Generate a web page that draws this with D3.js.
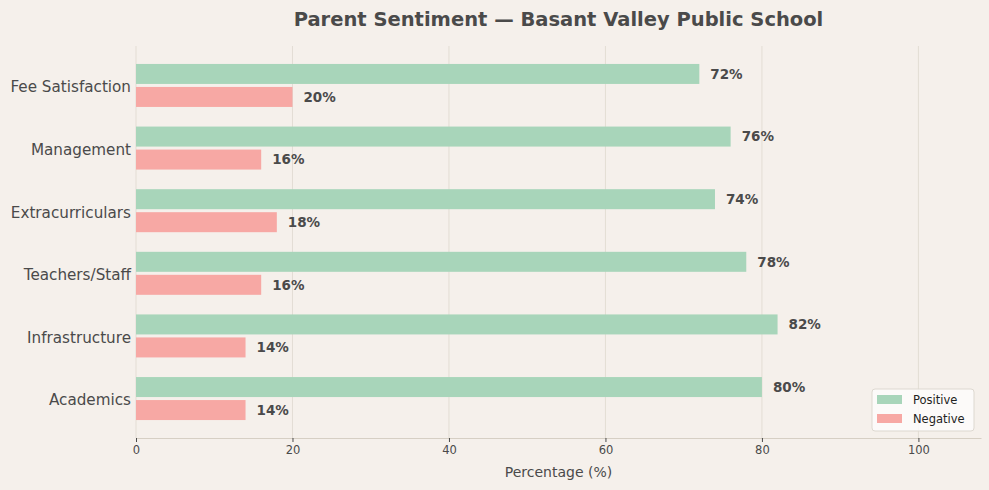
<!DOCTYPE html>
<html>
<head>
<meta charset="utf-8">
<script src="https://cdn.jsdelivr.net/npm/d3@7"></script>
<style>
  body { margin: 0; background: #f5f0eb; }
  svg { display: block; font-family: "DejaVu Sans", sans-serif; }
</style>
</head>
<body>
<svg id="chart"></svg>
<script>
// categories listed bottom to top, same order as the picture's y positions
const categories = ['Academics', 'Infrastructure', 'Teachers/Staff', 'Extracurriculars', 'Management', 'Fee Satisfaction'];
const positive = [80, 82, 78, 74, 76, 72];
const negative = [14, 14, 16, 18, 16, 20];
const xTicks = [0, 20, 40, 60, 80, 100];

const width = 989;
const height = 490;
const margin = { top: 46, right: 8, bottom: 52, left: 136 };
const textColor = '#4a4a4a';

const svg = d3.select('#chart')
  .attr('width', width)
  .attr('height', height);

svg.append('rect')
  .attr('width', width)
  .attr('height', height)
  .attr('fill', '#f5f0eb');

const x = d3.scaleLinear()
  .domain([0, 108])
  .range([margin.left, width - margin.right]);

const y = d3.scaleLinear()
  .domain([-0.63, categories.length - 1 + 0.63])
  .range([height - margin.bottom, margin.top]);

const barH = 20;
const gap = 3;

// grid
svg.append('g')
  .selectAll('line')
  .data(xTicks)
  .enter().append('line')
  .attr('x1', d => x(d))
  .attr('x2', d => x(d))
  .attr('y1', margin.top)
  .attr('y2', height - margin.bottom)
  .attr('stroke', '#e3ddd4')
  .attr('stroke-width', 1);

const groups = svg.append('g')
  .selectAll('g')
  .data(categories)
  .enter().append('g')
  .attr('transform', (d, i) => `translate(0,${y(i)})`);

groups.append('rect')
  .attr('x', x(0))
  .attr('y', -barH - gap / 2)
  .attr('width', (d, i) => x(positive[i]) - x(0))
  .attr('height', barH)
  .attr('fill', '#a8d5ba');

groups.append('rect')
  .attr('x', x(0))
  .attr('y', gap / 2)
  .attr('width', (d, i) => x(negative[i]) - x(0))
  .attr('height', barH)
  .attr('fill', '#f7a8a4');

groups.append('text')
  .attr('x', (d, i) => x(positive[i]) + 11)
  .attr('y', -barH / 2 - gap / 2)
  .attr('dy', '0.35em')
  .style('font-size', '13.5px')
  .style('font-weight', 'bold')
  .style('fill', textColor)
  .text((d, i) => `${positive[i]}%`);

groups.append('text')
  .attr('x', (d, i) => x(negative[i]) + 11)
  .attr('y', barH / 2 + gap / 2)
  .attr('dy', '0.35em')
  .style('font-size', '13.5px')
  .style('font-weight', 'bold')
  .style('fill', textColor)
  .text((d, i) => `${negative[i]}%`);

// category labels
groups.append('text')
  .attr('x', margin.left - 5)
  .attr('y', 1.5)
  .attr('dy', '0.35em')
  .attr('text-anchor', 'end')
  .style('font-size', '15.2px')
  .style('fill', textColor)
  .text(d => d);

// x axis
const xAxis = svg.append('g')
  .attr('transform', `translate(0,${height - margin.bottom})`)
  .call(d3.axisBottom(x).tickValues(xTicks).tickSize(4).tickSizeOuter(0).tickPadding(4));

xAxis.select('.domain').attr('stroke', '#d6cfc4');
xAxis.selectAll('.tick line').attr('stroke', textColor);
xAxis.selectAll('.tick text')
  .style('font-size', '11.5px')
  .style('font-family', '"DejaVu Sans", sans-serif')
  .style('fill', textColor);

svg.append('text')
  .attr('x', (margin.left + width - margin.right) / 2)
  .attr('y', 477)
  .attr('text-anchor', 'middle')
  .style('font-size', '14px')
  .style('fill', textColor)
  .text('Percentage (%)');

svg.append('text')
  .attr('x', (margin.left + width - margin.right) / 2)
  .attr('y', 26)
  .attr('text-anchor', 'middle')
  .style('font-size', '19.5px')
  .style('font-weight', 'bold')
  .style('fill', textColor)
  .text('Parent Sentiment \u2014 Basant Valley Public School');

// legend
const legend = svg.append('g')
  .attr('transform', 'translate(872,389)');

legend.append('rect')
  .attr('width', 102)
  .attr('height', 42)
  .attr('rx', 3)
  .attr('fill', '#fdfcfb')
  .attr('fill-opacity', 0.85)
  .attr('stroke', '#ddd8d0');

const legendItems = [
  { label: 'Positive', color: '#a8d5ba' },
  { label: 'Negative', color: '#f7a8a4' },
];

const item = legend.selectAll('.item')
  .data(legendItems)
  .enter().append('g')
  .attr('class', 'item')
  .attr('transform', (d, i) => `translate(5,${6 + i * 19})`);

item.append('rect')
  .attr('width', 25)
  .attr('height', 9)
  .attr('fill', d => d.color);

item.append('text')
  .attr('x', 36)
  .attr('y', 5)
  .attr('dy', '0.35em')
  .style('font-size', '11.5px')
  .style('fill', '#222')
  .text(d => d.label);
</script>
</body>
</html>
